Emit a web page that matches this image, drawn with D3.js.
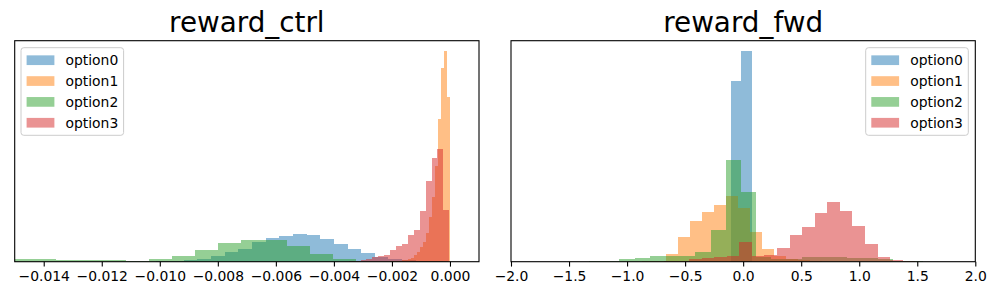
<!DOCTYPE html>
<html lang="en">
<head>
  <meta charset="UTF-8">
  <title>reward_ctrl / reward_fwd histograms</title>
  <script src="https://d3js.org/d3.v7.min.js"></script>
  <style>
    body { margin: 0; background: #fff; }
    text { font-family: "DejaVu Sans", sans-serif; fill: #000; }
  </style>
</head>
<body>
<div id="chart"></div>
<script>
// legend labels and colours (matplotlib tab10, alpha 0.5)
const options = ["option0", "option1", "option2", "option3"];
const colors = ["#1f77b4", "#ff7f0e", "#2ca02c", "#d62728"];

// reward_ctrl: left edge of first bin, bin width, counts per option
const ctrlStart = [-0.010121, -0.0020793, -0.015155, -0.0034886];
const ctrlWidth = [0.0004707, 0.00010345, 0.0007948, 0.0002038];
const ctrlCounts0 = [0.3, 0.7, 1.5, 3, 6, 10, 13, 20, 24, 26, 28, 27, 23, 18, 13, 9, 5, 3, 2, 1, 0.5];
const ctrlCounts1 = [0.5, 0.7, 1, 1.2, 1.5, 2, 2.5, 4, 7, 10, 15, 20, 29, 45, 65, 95.7, 142.7, 193.7, 210.7, 164.7];
const ctrlCounts2 = [2.7, 2.7, 1.7, 1.7, 1.7, 0.7, 2.7, 5.7, 11.7, 18.7, 21.7, 22, 16, 8, 3, 1, 0.5, 0.3, 0.3];
const ctrlCounts3 = [0.7, 1, 2, 3, 4.3, 5.7, 6.7, 11.7, 15.7, 17.7, 26.7, 31.7, 50.7, 80.7, 103.7, 112.7, 51.7];
const ctrlTicks = [-0.014, -0.012, -0.010, -0.008, -0.006, -0.004, -0.002, 0.000];

// reward_fwd
const fwdStart = [-0.106, -0.8719, -1.3285, -0.6832];
const fwdWidth = [0.0905, 0.10339, 0.13096, 0.1083];
const fwdCounts0 = [180.7, 210.7];
const fwdCounts1 = [0.5, 1, 7.7, 24.7, 40.7, 49.7, 56.7, 65.7, 53.7, 29.7, 12.7, 6, 3, 2, 1];
const fwdCounts2 = [0.7, 0.7, 2.7, 3.7, 5.7, 5.7, 5.7, 9.7, 31.7, 101.7, 69.7, 5, 3, 2.7, 4.7, 4.7, 4.7, 3.7, 3.7, 2.7, 0.7, 0.7];
const fwdCounts3 = [0.5, 1, 3, 3.7, 4.7, 5.7, 19.7, 5.7, 6.7, 13.7, 26.7, 34.7, 48.7, 59.7, 50.7, 35.7, 17.7, 4.7, 1.5, 0.7];
const fwdTicks = [-2.0, -1.5, -1.0, -0.5, 0.0, 0.5, 1.0, 1.5, 2.0];

const W = 995, H = 296;
const svg = d3.select("#chart").append("svg")
  .attr("width", W).attr("height", H)
  .style("background", "#fff");

// turn start/width/counts into bins
function makeBins(start, width, counts) {
  return counts.map((c, i) => ({ x0: start + i * width, x1: start + (i + 1) * width, n: c }));
}

function drawPanel(cfg) {
  const top = 40.7, bottom = 261.7;
  const x = d3.scaleLinear().domain(cfg.domain).range([cfg.left, cfg.right]);
  const series = cfg.counts.map((c, i) => makeBins(cfg.start[i], cfg.width[i], c));
  const maxN = d3.max(series, s => d3.max(s, d => d.n));
  const y = d3.scaleLinear().domain([0, maxN * 1.05]).range([bottom, top]);

  const g = svg.append("g");
  const clipId = "clip-" + cfg.id;
  svg.append("clipPath").attr("id", clipId)
    .append("rect")
    .attr("x", cfg.left).attr("y", top)
    .attr("width", cfg.right - cfg.left).attr("height", bottom - top);

  const bars = g.append("g").attr("clip-path", `url(#${clipId})`);
  series.forEach((bins, i) => {
    bars.append("g").selectAll("rect")
      .data(bins)
      .enter().append("rect")
      .attr("x", d => x(d.x0))
      .attr("width", d => x(d.x1) - x(d.x0))
      .attr("y", d => y(d.n))
      .attr("height", d => y(0) - y(d.n))
      .attr("fill", colors[i])
      .attr("fill-opacity", 0.5)
      .attr("shape-rendering", "crispEdges");
  });

  // x axis
  const axis = g.append("g")
    .attr("transform", `translate(0,${bottom})`)
    .call(d3.axisBottom(x).tickValues(cfg.ticks).tickFormat(d3.format(cfg.fmt))
      .tickSize(4.9).tickSizeOuter(0).tickPadding(4.9));
  axis.select(".domain").remove();
  axis.selectAll(".tick line").attr("stroke", "#000").attr("stroke-width", 1.1);
  axis.selectAll(".tick text")
    .style("font-size", "13.9px")
    .style("font-family", "'DejaVu Sans', sans-serif")
    .attr("fill", "#000");

  // frame
  g.append("rect")
    .attr("x", cfg.left).attr("y", top)
    .attr("width", cfg.right - cfg.left).attr("height", bottom - top)
    .attr("fill", "none").attr("stroke", "#000").attr("stroke-width", 1.1);

  // title
  g.append("text")
    .attr("x", (cfg.left + cfg.right) / 2)
    .attr("y", 31.5)
    .attr("text-anchor", "middle")
    .style("font-size", "27.8px")
    .text(cfg.title);

  // legend
  const lg = g.append("g").attr("transform", `translate(${cfg.legendX},47.7)`);
  lg.append("rect")
    .attr("width", 102.6).attr("height", 87.6)
    .attr("rx", 2.8).attr("ry", 2.8)
    .attr("fill", "#fff").attr("fill-opacity", 0.8)
    .attr("stroke", "#cccccc").attr("stroke-width", 1);
  options.forEach((name, i) => {
    const cy = 12.5 + i * 20.85;
    lg.append("rect")
      .attr("x", 5.6).attr("y", cy - 4.85)
      .attr("width", 27.8).attr("height", 9.7)
      .attr("fill", colors[i]).attr("fill-opacity", 0.5);
    lg.append("text")
      .attr("x", 44.5).attr("y", cy)
      .attr("dy", "0.36em")
      .style("font-size", "13.9px")
      .text(name);
  });
}

drawPanel({
  id: "ctrl", title: "reward_ctrl",
  left: 14.7, right: 479, domain: [-0.015, 0.001],
  start: ctrlStart, width: ctrlWidth,
  counts: [ctrlCounts0, ctrlCounts1, ctrlCounts2, ctrlCounts3],
  ticks: ctrlTicks, fmt: ".3f", legendX: 21
});

drawPanel({
  id: "fwd", title: "reward_fwd",
  left: 511, right: 975.3, domain: [-2, 2],
  start: fwdStart, width: fwdWidth,
  counts: [fwdCounts0, fwdCounts1, fwdCounts2, fwdCounts3],
  ticks: fwdTicks, fmt: ".1f", legendX: 865.7
});
</script>
</body>
</html>
